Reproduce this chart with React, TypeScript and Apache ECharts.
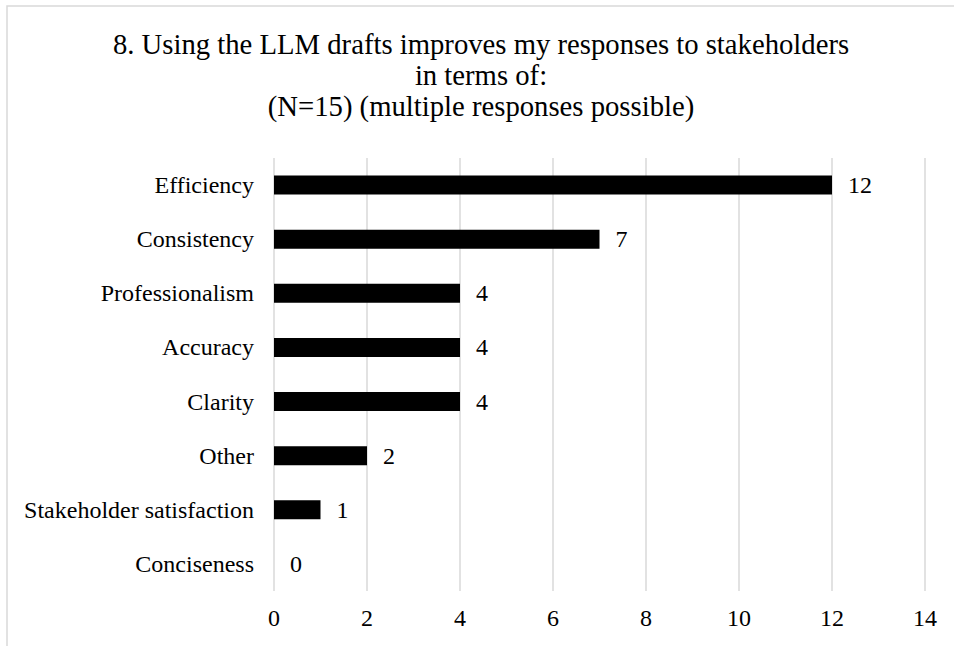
import React, { useEffect, useRef } from "react";
import * as echarts from "echarts";

const titleLines = [
  "8. Using the LLM drafts improves my responses to stakeholders",
  "in terms of:",
  "(N=15) (multiple responses possible)",
];
const categories = [
  "Efficiency",
  "Consistency",
  "Professionalism",
  "Accuracy",
  "Clarity",
  "Other",
  "Stakeholder satisfaction",
  "Conciseness",
];
const counts = [12, 7, 4, 4, 4, 2, 1, 0];
const xMin = 0;
const xMax = 14;
const xStep = 2;

const FONT = "Liberation Serif";

export default function App() {
  const ref = useRef<HTMLDivElement>(null);
  useEffect(() => {
    if (!ref.current) return;
    const chart = echarts.init(ref.current, undefined, { renderer: "svg" });
    chart.setOption({
      animation: false,
      backgroundColor: "#ffffff",
      textStyle: { fontFamily: FONT, color: "#000" },
      title: {
        text: titleLines.join("\n"),
        left: 481,
        top: 28,
        padding: 0,
        textAlign: "center",
        textStyle: {
          fontFamily: FONT,
          fontSize: 28.7,
          lineHeight: 31,
          fontWeight: "normal",
          color: "#000",
        },
      },
      graphic: [
        {
          type: "rect",
          shape: { x: 7, y: 6, width: 1000, height: 700 },
          style: { fill: "none", stroke: "#d9d9d9", lineWidth: 1.5 },
          silent: true,
          z: -1,
        },
      ],
      grid: { left: 274, right: 29, top: 158, bottom: 55, containLabel: false },
      xAxis: {
        type: "value",
        min: xMin,
        max: xMax,
        interval: xStep,
        axisLine: { show: false },
        axisTick: { show: false },
        splitLine: { show: true, lineStyle: { color: "#d9d9d9", width: 1.5 } },
        axisLabel: { fontFamily: FONT, fontSize: 24, color: "#000", margin: 15 },
      },
      yAxis: {
        type: "category",
        inverse: true,
        data: categories,
        axisLine: { show: false },
        axisTick: { show: false },
        axisLabel: { fontFamily: FONT, fontSize: 24, color: "#000", margin: 20 },
      },
      series: [
        {
          type: "bar",
          data: counts,
          barWidth: 19,
          itemStyle: { color: "#000" },
          label: {
            show: true,
            position: "right",
            distance: 16,
            fontFamily: FONT,
            fontSize: 24,
            color: "#000",
          },
        },
      ],
    });
    return () => chart.dispose();
  }, []);
  return (
    <div
      ref={ref}
      style={{ position: "fixed", left: 0, top: 0, width: 954, height: 646 }}
    />
  );
}
